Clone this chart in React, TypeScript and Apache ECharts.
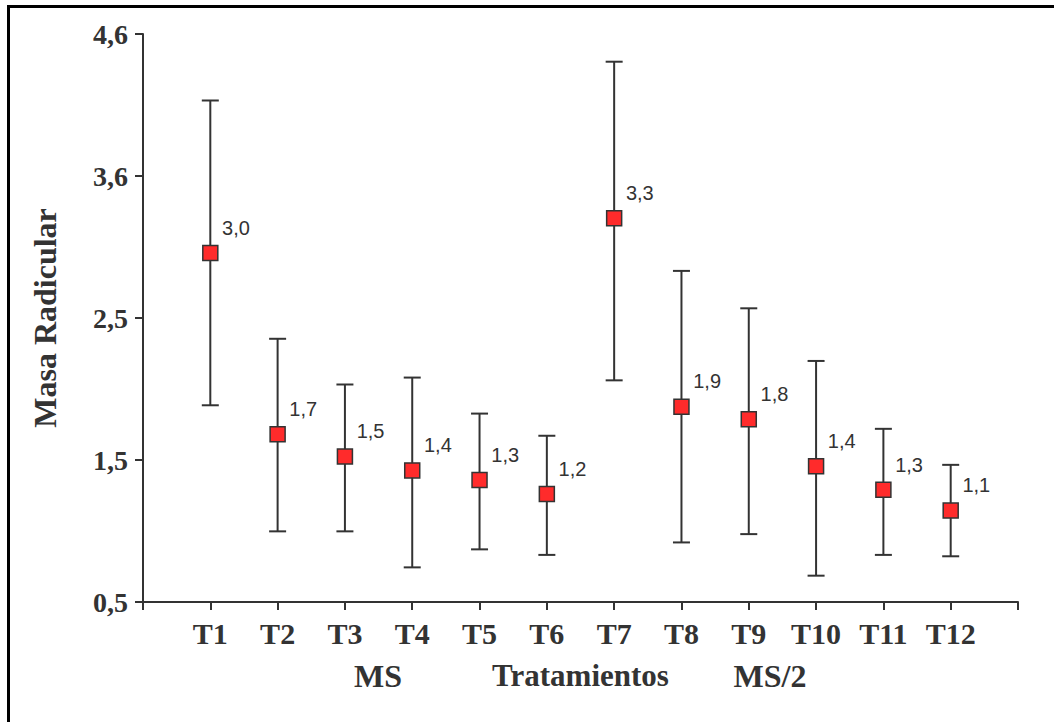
import React, { useEffect, useRef } from "react";
import * as echarts from "echarts";

// Treatments on the x axis
const categories = ["T1", "T2", "T3", "T4", "T5", "T6", "T7", "T8", "T9", "T10", "T11", "T12"];
// Mean root mass (markers)
const means = [3.02, 1.71, 1.55, 1.45, 1.38, 1.28, 3.27, 1.91, 1.82, 1.48, 1.31, 1.16];
// Printed labels next to the markers
const meanLabels = ["3,0", "1,7", "1,5", "1,4", "1,3", "1,2", "3,3", "1,9", "1,8", "1,4", "1,3", "1,1"];
// Error bar limits
const upper = [4.12, 2.4, 2.07, 2.12, 1.86, 1.7, 4.4, 2.89, 2.62, 2.24, 1.75, 1.49];
const lower = [1.92, 1.01, 1.01, 0.75, 0.88, 0.84, 2.1, 0.93, 0.99, 0.69, 0.84, 0.83];
// Y axis range / tick step (ticks: 0,5 1,5 2,5 3,6 4,6)
const yMin = 0.5;
const yMax = 4.6;
const yStep = 1.025;
// Axis titles and group labels
const xTitle = "Tratamientos";
const yTitle = "Masa Radicular";
const groupLabels = ["MS", "MS/2"];

const INK = "#333333";
const SERIF = "'Liberation Serif', 'Times New Roman', serif";
const SANS = "'Liberation Sans', Arial, sans-serif";

export default function App() {
  const ref = useRef<HTMLDivElement>(null);

  useEffect(() => {
    if (!ref.current) return;
    const chart = echarts.init(ref.current, undefined, { renderer: "svg" });

    const errData = categories.map((_, i) => [i + 1, lower[i], upper[i]]);
    const meanData = categories.map((_, i) => [i + 1, means[i]]);

    chart.setOption({
      animation: false,
      backgroundColor: "#ffffff",
      grid: { left: 143, right: 36, top: 34, bottom: 120, containLabel: false },
      xAxis: {
        type: "value",
        min: 0,
        max: categories.length + 1,
        interval: 1,
        name: xTitle,
        nameLocation: "middle",
        nameGap: 58,
        nameTextStyle: { fontFamily: SERIF, fontWeight: "bold", fontSize: 31, color: INK },
        axisLine: { show: true, lineStyle: { color: INK, width: 2 } },
        axisTick: { show: true, inside: false, length: 8, lineStyle: { color: INK, width: 2 } },
        axisLabel: {
          margin: 16,
          fontFamily: SERIF,
          fontWeight: "bold",
          fontSize: 30,
          color: INK,
          formatter: (v: number) => (v >= 1 && v <= categories.length ? categories[v - 1] : ""),
        },
        splitLine: { show: false },
      },
      yAxis: {
        type: "value",
        min: yMin,
        max: yMax,
        interval: yStep,
        name: yTitle,
        nameLocation: "middle",
        nameRotate: 90,
        nameGap: 82,
        nameTextStyle: { fontFamily: SERIF, fontWeight: "bold", fontSize: 32, color: INK },
        axisLine: { show: true, lineStyle: { color: INK, width: 2 } },
        axisTick: { show: true, inside: false, length: 8, lineStyle: { color: INK, width: 2 } },
        axisLabel: {
          margin: 15,
          fontFamily: SERIF,
          fontWeight: "bold",
          fontSize: 28,
          color: INK,
          formatter: (v: number) => v.toFixed(1).replace(".", ","),
        },
        splitLine: { show: false },
      },
      graphic: [
        { type: "rect", left: 7, top: 5, shape: { width: 1047, height: 3 }, style: { fill: "#000" } },
        { type: "rect", left: 7, top: 5, shape: { width: 3, height: 717 }, style: { fill: "#000" } },
        {
          type: "text",
          x: 378,
          y: 676,
          style: {
            text: groupLabels[0],
            font: `bold 32px ${SERIF}`,
            fill: INK,
            align: "center",
            verticalAlign: "middle",
          },
        },
        {
          type: "text",
          x: 770,
          y: 676,
          style: {
            text: groupLabels[1],
            font: `bold 32px ${SERIF}`,
            fill: INK,
            align: "center",
            verticalAlign: "middle",
          },
        },
      ],
      series: [
        {
          type: "custom",
          data: errData,
          z: 2,
          renderItem: (params: any, api: any) => {
            const x = api.value(0);
            const lo = api.coord([x, api.value(1)]);
            const hi = api.coord([x, api.value(2)]);
            const cap = 8.5;
            const style = { stroke: INK, lineWidth: 2 };
            return {
              type: "group",
              children: [
                { type: "line", shape: { x1: hi[0], y1: hi[1], x2: lo[0], y2: lo[1] }, style },
                { type: "line", shape: { x1: hi[0] - cap, y1: hi[1], x2: hi[0] + cap, y2: hi[1] }, style },
                { type: "line", shape: { x1: lo[0] - cap, y1: lo[1], x2: lo[0] + cap, y2: lo[1] }, style },
              ],
            };
          },
        },
        {
          type: "scatter",
          data: meanData,
          z: 5,
          symbol: "rect",
          symbolSize: 15,
          itemStyle: { color: "#ff2b2b", borderColor: INK, borderWidth: 1.5, opacity: 1 },
          label: {
            show: true,
            position: [20, -27],
            align: "left",
            verticalAlign: "top",
            fontFamily: SANS,
            fontSize: 20,
            color: INK,
            formatter: (p: any) => meanLabels[p.dataIndex],
          },
          emphasis: { disabled: true },
        },
      ],
    });

    return () => chart.dispose();
  }, []);

  return (
    <div
      ref={ref}
      style={{ position: "absolute", left: 0, top: 0, width: 1054, height: 722, background: "#fff" }}
    />
  );
}
